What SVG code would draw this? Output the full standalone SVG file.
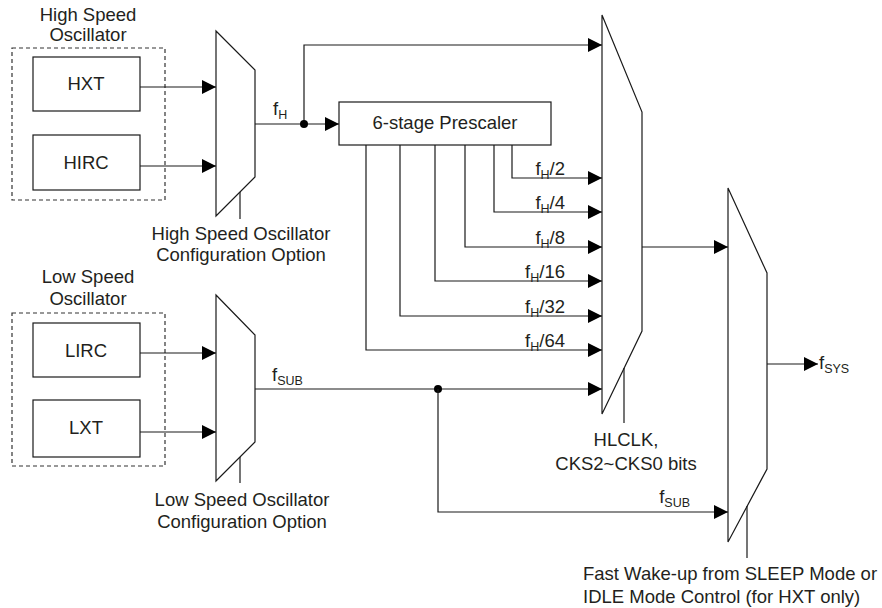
<svg xmlns="http://www.w3.org/2000/svg" width="882" height="608" viewBox="0 0 882 608">
<style>
  text { font-family: "Liberation Sans", Arial, sans-serif; font-size: 18.5px; fill: #231f20; }
  .c { text-anchor: middle; }
  .r { text-anchor: end; }
  .sub { font-size: 12.5px; }
  .box { fill: #fff; stroke: #1a1a1a; stroke-width: 1.2; }
  .dash { fill: none; stroke: #333; stroke-width: 1.2; stroke-dasharray: 4 3; }
  .mux { fill: #fff; stroke: #1a1a1a; stroke-width: 1.2; }
  .w { fill: none; stroke: #1a1a1a; stroke-width: 1.2; }
  .a { marker-end: url(#arr); }
</style>
<defs>
  <marker id="arr" markerUnits="userSpaceOnUse" markerWidth="14" markerHeight="14" refX="14" refY="7" orient="auto">
    <path d="M0,0 L14,7 L0,14 z" fill="#000"/>
  </marker>
</defs>
<rect width="882" height="608" fill="#fff"/>

<g id="hs-osc">
  <rect class="dash" x="12" y="48" width="153" height="152"/>
  <text class="c" x="88" y="21">High Speed</text>
  <text class="c" x="88" y="41">Oscillator</text>
</g>
<g id="hxt">
  <rect class="box" x="33" y="57" width="107" height="54"/>
  <text class="c" x="86" y="90">HXT</text>
</g>
<g id="hirc">
  <rect class="box" x="33" y="135" width="107" height="55"/>
  <text class="c" x="86" y="169">HIRC</text>
</g>
<g id="ls-osc">
  <rect class="dash" x="12" y="313" width="153" height="153"/>
  <text class="c" x="88" y="283">Low Speed</text>
  <text class="c" x="88" y="305">Oscillator</text>
</g>
<g id="lirc">
  <rect class="box" x="33" y="323" width="107" height="54"/>
  <text class="c" x="86" y="357">LIRC</text>
</g>
<g id="lxt">
  <rect class="box" x="33" y="400" width="107" height="57"/>
  <text class="c" x="86" y="434">LXT</text>
</g>

<g id="mux-hs">
  <polygon class="mux" points="216,31 255,70 255,177 216,216"/>
  <line class="w" x1="240" y1="192" x2="240" y2="219"/>
  <text class="c" x="241" y="240">High Speed Oscillator</text>
  <text class="c" x="241" y="261">Configuration Option</text>
</g>
<g id="mux-ls">
  <polygon class="mux" points="216,295 255,335 255,442 216,481"/>
  <line class="w" x1="240" y1="457" x2="240" y2="483"/>
  <text class="c" x="242" y="506">Low Speed Oscillator</text>
  <text class="c" x="242" y="528">Configuration Option</text>
</g>
<g id="prescaler">
  <rect class="box" x="339" y="102" width="212" height="43"/>
  <text class="c" x="445" y="129">6-stage Prescaler</text>
</g>
<g id="mux-hl">
  <polygon class="mux" points="602,15 642,112 642,331 602,414"/>
  <line class="w" x1="624" y1="368" x2="624" y2="423"/>
  <text class="c" x="626" y="446">HLCLK,</text>
  <text class="c" x="626" y="470">CKS2~CKS0 bits</text>
</g>
<g id="mux-sys">
  <polygon class="mux" points="728,188 767,273 767,469 728,542"/>
  <line class="w" x1="747" y1="506" x2="747" y2="558"/>
  <text x="583" y="580">Fast Wake-up from SLEEP Mode or</text>
  <text x="583" y="603">IDLE Mode Control (for HXT only)</text>
</g>

<g id="connectors">
  <line class="w a" x1="140" y1="87" x2="216" y2="87"/>
  <line class="w a" x1="140" y1="166" x2="216" y2="166"/>
  <line class="w a" x1="140" y1="353" x2="216" y2="353"/>
  <line class="w a" x1="140" y1="432" x2="216" y2="432"/>

  <line class="w a" x1="255" y1="124" x2="339" y2="124"/>
  <polyline class="w a" points="304,124 304,45 602,45"/>
  <circle cx="304" cy="124" r="4" fill="#000"/>
  <text x="273" y="115">f<tspan class="sub" dy="4">H</tspan></text>

  <polyline class="w a" points="512,145 512,178 602,178"/>
  <polyline class="w a" points="494,145 494,212 602,212"/>
  <polyline class="w a" points="465,145 465,247 602,247"/>
  <polyline class="w a" points="435,145 435,281 602,281"/>
  <polyline class="w a" points="400,145 400,316 602,316"/>
  <polyline class="w a" points="366,145 366,350 602,350"/>
  <text class="r" x="565" y="175">f<tspan class="sub" dy="4">H</tspan><tspan dy="-4">/2</tspan></text>
  <text class="r" x="565" y="209">f<tspan class="sub" dy="4">H</tspan><tspan dy="-4">/4</tspan></text>
  <text class="r" x="565" y="244">f<tspan class="sub" dy="4">H</tspan><tspan dy="-4">/8</tspan></text>
  <text class="r" x="565" y="278">f<tspan class="sub" dy="4">H</tspan><tspan dy="-4">/16</tspan></text>
  <text class="r" x="565" y="313">f<tspan class="sub" dy="4">H</tspan><tspan dy="-4">/32</tspan></text>
  <text class="r" x="565" y="347">f<tspan class="sub" dy="4">H</tspan><tspan dy="-4">/64</tspan></text>

  <line class="w a" x1="255" y1="389" x2="602" y2="389"/>
  <circle cx="438" cy="389" r="4" fill="#000"/>
  <text x="272" y="381">f<tspan class="sub" dy="4">SUB</tspan></text>
  <polyline class="w a" points="438,389 438,512 728,512"/>
  <text class="r" x="690" y="503">f<tspan class="sub" dy="4">SUB</tspan></text>

  <line class="w a" x1="642" y1="247" x2="728" y2="247"/>
  <line class="w a" x1="767" y1="364" x2="818" y2="364"/>
  <text x="819" y="369">f<tspan class="sub" dy="4">SYS</tspan></text>
</g>
</svg>
